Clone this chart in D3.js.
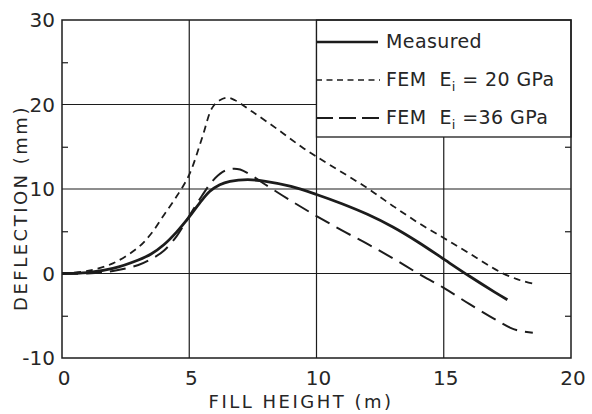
<!DOCTYPE html>
<html>
<head>
<meta charset="utf-8">
<script src="https://cdn.jsdelivr.net/npm/d3@7"></script>
<style>
  body { margin: 0; background: #fff; }
  text { font-family: "DejaVu Sans", sans-serif; font-weight: 400; fill: #262626; }
</style>
</head>
<body>
<svg id="chart" width="592" height="414"></svg>
<script>
'use strict';

// values (fill height in m, deflection in mm)
var measuredHeight = [0, 1, 2, 3, 3.5, 4, 4.5, 5, 5.4, 5.8, 6.2, 6.6, 7.3, 8, 9, 10, 11, 12, 13, 14, 15, 16, 17, 17.5];
var measuredDefl   = [0, 0.1, 0.6, 1.6, 2.3, 3.4, 4.9, 6.7, 8.3, 9.7, 10.5, 10.9, 11.1, 10.9, 10.3, 9.35, 8.25, 7.0, 5.5, 3.7, 1.7, -0.3, -2.2, -3.1];

var fem20Height = [0, 1, 2, 3, 3.5, 4, 4.5, 5, 5.5, 5.9, 6.2, 6.5, 6.8, 7.5, 8.5, 9.5, 10.5, 12, 13, 14, 15, 16, 17.2, 18, 18.5];
var fem20Defl   = [0, 0.3, 1.2, 3.1, 4.7, 6.9, 9.1, 11.7, 16.0, 19.6, 20.5, 20.8, 20.5, 19.1, 17.0, 14.8, 12.9, 10.1, 8.0, 6.0, 4.2, 2.4, 0.2, -0.8, -1.2];

var fem36Height = [0, 1, 2, 3, 3.5, 4, 4.5, 5, 5.5, 5.9, 6.3, 6.7, 7.0, 7.5, 8, 9, 10, 11, 12, 13, 14, 15, 16, 17, 17.6, 18, 18.5];
var fem36Defl   = [0, 0, 0.3, 1.0, 1.7, 2.7, 4.4, 6.8, 9.2, 10.9, 12.0, 12.4, 12.3, 11.5, 10.5, 8.6, 6.8, 5.1, 3.5, 1.8, 0.0, -1.7, -3.6, -5.4, -6.4, -6.8, -7.0];

var xTicks = [0, 5, 10, 15, 20];
var yTicks = [-10, 0, 10, 20, 30];
var yMinorTicks = [-5, 5, 15, 25];
var legendLabels = ['Measured', 'FEM  E', 'FEM  E'];
var legendSubs = ['', 'i', 'i'];
var legendTails = ['', ' = 20 GPa', ' =36 GPa'];

var plotLeft = 62, plotRight = 571, plotTop = 20, plotBottom = 358;
var ink = '#1c1c1c';

var svg = d3.select('#chart');
var x = d3.scaleLinear().domain([0, 20]).range([plotLeft, plotRight]);
var y = d3.scaleLinear().domain([-10, 30]).range([plotBottom, plotTop]);

// grid lines (hand drawn in the original, so kept thin and dark)
svg.append('g').selectAll('line')
    .data(xTicks.slice(1, -1))
  .enter().append('line')
    .attr('x1', function(d) { return x(d); })
    .attr('x2', function(d) { return x(d); })
    .attr('y1', plotTop).attr('y2', plotBottom)
    .attr('stroke', ink).attr('stroke-width', 1.2);

svg.append('g').selectAll('line')
    .data(yTicks.slice(1, -1))
  .enter().append('line')
    .attr('x1', plotLeft).attr('x2', plotRight)
    .attr('y1', function(d) { return y(d); })
    .attr('y2', function(d) { return y(d); })
    .attr('stroke', ink).attr('stroke-width', 1.2);

// small inward ticks on both side axes
var minorL = svg.append('g')
    .attr('transform', 'translate(' + plotLeft + ',0)')
    .call(d3.axisRight(y).tickValues(yMinorTicks).tickSize(6).tickFormat(''));
minorL.select('.domain').remove();
var minorR = svg.append('g')
    .attr('transform', 'translate(' + plotRight + ',0)')
    .call(d3.axisLeft(y).tickValues(yMinorTicks).tickSize(6).tickFormat(''));
minorR.select('.domain').remove();
svg.selectAll('.tick line').attr('stroke', ink).attr('stroke-width', 1.2);

// legend box sits over the top-right grid cells
var legendLeft = x(10), legendBottom = 137;
svg.append('rect')
    .attr('x', legendLeft).attr('y', plotTop)
    .attr('width', plotRight - legendLeft).attr('height', legendBottom - plotTop)
    .attr('fill', '#fff').attr('stroke', ink).attr('stroke-width', 1.3);

// frame
svg.append('rect')
    .attr('x', plotLeft).attr('y', plotTop)
    .attr('width', plotRight - plotLeft).attr('height', plotBottom - plotTop)
    .attr('fill', 'none').attr('stroke', ink).attr('stroke-width', 1.5);

var line = d3.line()
    .x(function(d) { return x(d[0]); })
    .y(function(d) { return y(d[1]); })
    .curve(d3.curveCatmullRom.alpha(0.5));

var series = [
  {h: fem20Height, v: fem20Defl, width: 1.8, dash: '7,5'},
  {h: fem36Height, v: fem36Defl, width: 2, dash: '16,8'},
  {h: measuredHeight, v: measuredDefl, width: 2.8, dash: null}
];

svg.append('g').selectAll('path')
    .data(series)
  .enter().append('path')
    .attr('d', function(s) { return line(d3.zip(s.h, s.v)); })
    .attr('fill', 'none')
    .attr('stroke', ink)
    .attr('stroke-width', function(s) { return s.width; })
    .attr('stroke-dasharray', function(s) { return s.dash; });

// legend entries
var legendRows = [42, 80, 118];
var legendStyles = [
  {width: 2.6, dash: null, x2: 378},
  {width: 1.6, dash: '6,4.5', x2: 380},
  {width: 2, dash: '17,6', x2: 384}
];
var rows = svg.append('g').selectAll('g')
    .data(legendRows)
  .enter().append('g')
    .attr('transform', function(d) { return 'translate(0,' + d + ')'; });
rows.append('line')
    .attr('x1', 316)
    .attr('x2', function(d, i) { return legendStyles[i].x2; })
    .attr('stroke', ink)
    .attr('stroke-width', function(d, i) { return legendStyles[i].width; })
    .attr('stroke-dasharray', function(d, i) { return legendStyles[i].dash; });
var lt = rows.append('text')
    .attr('x', 386).attr('y', 6)
    .attr('font-size', 19)
    .attr('letter-spacing', 0.4)
    .style('white-space', 'pre');
lt.append('tspan').text(function(d, i) { return legendLabels[i]; });
lt.append('tspan').attr('font-size', 13).attr('dy', 5)
    .text(function(d, i) { return legendSubs[i]; });
lt.append('tspan').attr('dy', -5)
    .text(function(d, i) { return legendTails[i]; });

// tick labels
svg.append('g').selectAll('text')
    .data(yTicks)
  .enter().append('text')
    .attr('x', 55)
    .attr('y', function(d) { return y(d) + 7; })
    .attr('text-anchor', 'end')
    .attr('font-size', 20)
    .text(function(d) { return d; });

svg.append('g').selectAll('text')
    .data(xTicks)
  .enter().append('text')
    .attr('x', function(d) { return x(d) + 2; })
    .attr('y', 385)
    .attr('text-anchor', 'middle')
    .attr('font-size', 20)
    .text(function(d) { return d; });

// axis titles
svg.append('text')
    .attr('x', 301).attr('y', 408)
    .attr('text-anchor', 'middle')
    .attr('font-size', 18)
    .attr('letter-spacing', 2.5)
    .text('FILL HEIGHT (m)');

svg.append('text')
    .attr('transform', 'translate(27,208) rotate(-90)')
    .attr('text-anchor', 'middle')
    .attr('font-size', 18)
    .attr('letter-spacing', 2.5)
    .text('DEFLECTION (mm)');
</script>
</body>
</html>
